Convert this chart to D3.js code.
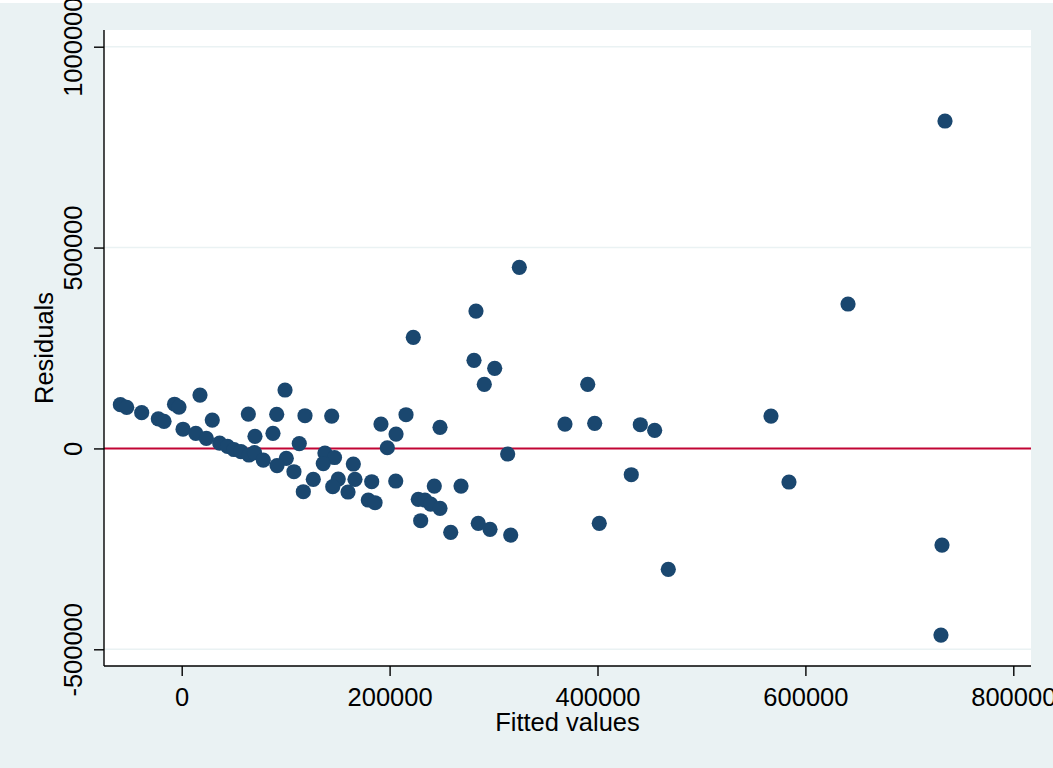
<!DOCTYPE html>
<html>
<head>
<meta charset="utf-8">
<title>Residuals vs fitted</title>
<script src="https://d3js.org/d3.v7.min.js"></script>
<style>
  body { margin: 0; background: #eaf2f3; }
  svg { display: block; }
  text { font-family: "Liberation Sans", Arial, sans-serif; fill: #000; }
</style>
</head>
<body>
<div id="chart"></div>
<script>
// fitted values and residuals
var fitted = [
  -59000, -52900, -38500, -22500, -17000, -6900, -2600, 17600, 1300, 29400,
  13600, 23700, 36500, 44100, 50300, 57000, 64100, 70500, 64700, 70000,
  78500, 91400, 99400, 87800, 113100, 100600, 91700, 108000, 126600, 117000,
  118600, 144300, 137800, 147000, 136200, 150600, 145300, 160000, 165100, 166700,
  182800, 179500, 186000, 191700, 206200, 215800, 197800, 205900, 248500, 227600,
  234000, 239500, 248500, 243000, 268700, 229900, 258800, 285300, 296600, 316500,
  313600, 324800, 283100, 222800, 281200, 301100, 291100, 390600, 368700, 397300,
  441200, 455000, 432500, 401700, 468100, 566900, 584200, 641000, 734300, 731400,
  730400
];
var residuals = [
  109000, 102300, 88900, 73700, 67500, 110000, 103000, 132900, 47800, 70700,
  37600, 25100, 13400, 5200, -2700, -7700, 85600, 30100, -16400, -10200,
  -28900, 84900, 145400, 37600, 12200, -24600, -42600, -58000, -76900, -107800,
  81400, 80600, -11400, -22600, -37800, -76200, -95300, -108500, -38800, -76900,
  -82900, -128400, -135200, 60700, 35800, 83900, 1700, -81100, 52500, -126700,
  -128400, -138400, -149100, -93600, -93600, -180000, -208800, -186400, -201400, -215600,
  -13900, 450800, 342000, 276600, 219300, 199400, 159600, 159600, 60700, 62500,
  59000, 45100, -65500, -186400, -301000, 80600, -83600, 359500, 815000, -240500,
  -464500
];
var xTicks = [0, 200000, 400000, 600000, 800000];
var yTicks = [-500000, 0, 500000, 1000000];
var xTitle = "Fitted values";
var yTitle = "Residuals";

var W = 1053, H = 768;
var plot = {left: 104, right: 1031, top: 30, bottom: 666};

var x = d3.scaleLinear().domain([0, 800000]).range([181.7, 1013.3]);
var y = d3.scaleLinear().domain([-500000, 1000000]).range([649.3, 46.7]);

// plain hyphen for negatives, like the original
var fmt = function(d) { return String(d); };

var svg = d3.select("#chart").append("svg")
  .attr("width", W)
  .attr("height", H);

svg.append("rect").attr("width", W).attr("height", H).attr("fill", "#eaf2f3");
svg.append("rect").attr("width", W).attr("height", 3).attr("fill", "#fff");

// plot region
svg.append("rect")
  .attr("x", plot.left).attr("y", plot.top)
  .attr("width", plot.right - plot.left)
  .attr("height", plot.bottom - plot.top)
  .attr("fill", "#fff");

// gridlines
svg.append("g").selectAll("line")
  .data(yTicks.filter(function(d) { return d !== 0; }))
  .enter().append("line")
    .attr("x1", plot.left).attr("x2", plot.right)
    .attr("y1", function(d) { return y(d); })
    .attr("y2", function(d) { return y(d); })
    .attr("stroke", "#eaf2f3")
    .attr("stroke-width", 1.6);

// reference line at zero
svg.append("line")
  .attr("x1", plot.left).attr("x2", plot.right)
  .attr("y1", y(0)).attr("y2", y(0))
  .attr("stroke", "#c10534")
  .attr("stroke-width", 2);

// points
svg.append("g").selectAll("circle")
  .data(fitted)
  .enter().append("circle")
    .attr("cx", function(d) { return x(d); })
    .attr("cy", function(d, i) { return y(residuals[i]); })
    .attr("r", 7.6)
    .attr("fill", "#1a476f");

// axes
var xAxis = svg.append("g")
  .attr("transform", "translate(0," + plot.bottom + ")")
  .call(d3.axisBottom(x).tickValues(xTicks).tickSize(10).tickPadding(12).tickFormat(fmt));
xAxis.select(".domain").attr("d", "M" + plot.left + ",0H" + plot.right);

var yAxis = svg.append("g")
  .attr("transform", "translate(" + plot.left + ",0)")
  .call(d3.axisLeft(y).tickValues(yTicks).tickSize(10).tickPadding(0).tickFormat(fmt));
yAxis.select(".domain").attr("d", "M0," + plot.top + "V" + plot.bottom);

svg.selectAll(".domain, .tick line").attr("stroke", "#000").attr("stroke-width", 1.4);
svg.selectAll(".tick text").attr("font-size", 25.5).attr("font-family", "Liberation Sans, Arial, sans-serif").attr("fill", "#000");

xAxis.selectAll(".tick text").attr("dy", 0).attr("y", 40);
yAxis.selectAll(".tick text")
  .attr("x", null).attr("dy", null)
  .attr("text-anchor", "middle")
  .attr("transform", "translate(-22.3,0) rotate(-90)");

// titles
svg.append("text")
  .attr("x", (plot.left + plot.right) / 2)
  .attr("y", 731)
  .attr("text-anchor", "middle")
  .attr("font-size", 25.5)
  .text(xTitle);

svg.append("text")
  .attr("transform", "translate(52.7," + (plot.top + plot.bottom) / 2 + ") rotate(-90)")
  .attr("text-anchor", "middle")
  .attr("font-size", 25.5)
  .text(yTitle);
</script>
</body>
</html>
